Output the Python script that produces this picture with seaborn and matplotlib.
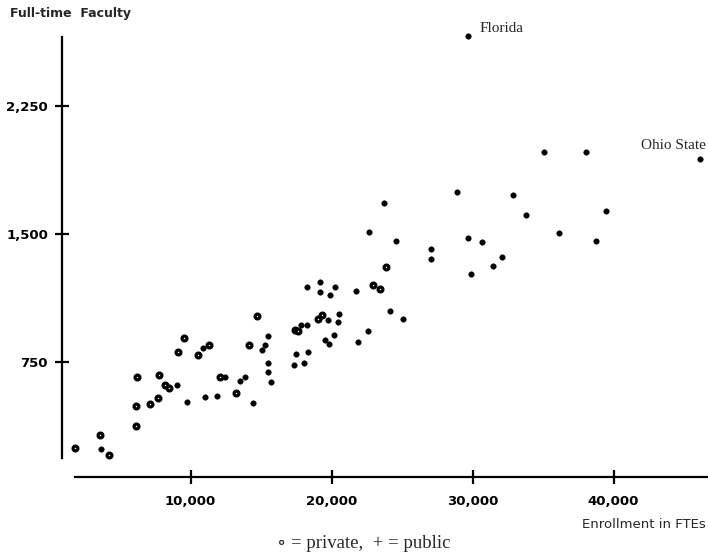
import matplotlib
matplotlib.use("Agg")
import matplotlib.pyplot as plt
import seaborn as sns
import pandas as pd

# Private universities (enrollment in FTEs, full-time faculty)
private_x = [1806, 3576, 4214, 6126, 6126, 6197, 7118, 7684, 7755, 8200, 8450,
             9101, 9526, 10517, 11296, 12075, 13208, 14129, 14695, 17400, 17600,
             19016, 19299, 22911, 23407, 23832]
private_y = [246, 322, 205, 375, 492, 662, 504, 539, 674, 615, 600,
             809, 891, 791, 850, 662, 568, 850, 1020, 940, 930,
             1002, 1025, 1201, 1178, 1307]

# Public universities
public_x = [3647, 9030, 9738, 10871, 11013, 11862, 12429, 13491, 13845, 14412,
            15050, 15262, 15475, 15475, 15475, 15687, 17316, 17458, 17812, 18237,
            18024, 18307, 18237, 19157, 19157, 20219, 19865, 19723, 20502, 20432,
            20149, 19511, 19794, 21707, 21848, 22556, 22628, 23690, 24540, 24115,
            25035, 27089, 27089, 28930, 29709, 30701, 29922, 31480, 32118, 32897,
            33817, 35092, 38067, 36154, 38775, 39483, 29709, 46140]
public_y = [240, 615, 516, 832, 545, 551, 662, 639, 662, 510,
            820, 850, 902, 744, 691, 633, 732, 797, 967, 967,
            744, 809, 1189, 1219, 1160, 1189, 1143, 996, 1031, 984,
            908, 879, 855, 1166, 867, 932, 1512, 1682, 1459, 1049,
            1002, 1412, 1353, 1746, 1477, 1453, 1266, 1312, 1365, 1728,
            1611, 1980, 1980, 1506, 1459, 1635, 2660, 1939]

labels = {"Florida": (29709, 2660), "Ohio State": (46140, 1939)}

x_ticks = [10000, 20000, 30000, 40000]
y_ticks = [750, 1500, 2250]

df = pd.concat([
    pd.DataFrame({"Enrollment": private_x, "Faculty": private_y, "type": "private"}),
    pd.DataFrame({"Enrollment": public_x, "Faculty": public_y, "type": "public"}),
], ignore_index=True)

sns.set_style("white")
plt.rcParams["font.family"] = ["DejaVu Sans"]

fig = plt.figure(figsize=(7.08, 5.54), dpi=100)
ax = fig.add_axes([62 / 708, 1 - 477 / 554, 1 - 62 / 708, (477 - 37) / 554])

sns.scatterplot(data=df[df["type"] == "private"], x="Enrollment", y="Faculty",
                ax=ax, marker="o", s=12, facecolor="white", edgecolor="black",
                linewidth=2.3, legend=False, zorder=3, clip_on=False)
sns.scatterplot(data=df[df["type"] == "public"], x="Enrollment", y="Faculty",
                ax=ax, marker="o", s=16, color="black", edgecolor="black",
                linewidth=0.3, legend=False, zorder=3, clip_on=False)

ax.set_xlim(885, 46700)
ax.set_ylim(76, 2654)

for s in ["top", "right"]:
    ax.spines[s].set_visible(False)
for s in ["left", "bottom"]:
    ax.spines[s].set_linewidth(1.6)
    ax.spines[s].set_color("black")
ax.spines["left"].set_bounds(187, 2654)
ax.spines["bottom"].set_bounds(1806, 46700)

ax.set_xticks(x_ticks)
ax.set_xticklabels([f"{v:,}" for v in x_ticks])
ax.set_yticks(y_ticks)
ax.set_yticklabels([f"{v:,}" for v in y_ticks])
ax.tick_params(axis="both", direction="inout", length=10, width=1.6,
               color="black", labelsize=9.5, labelcolor="black",
               bottom=True, left=True)
ax.tick_params(axis="x", pad=8)
ax.tick_params(axis="y", pad=5)
for t in ax.get_xticklabels() + ax.get_yticklabels():
    t.set_fontweight("bold")

ax.set_xlabel("")
ax.set_ylabel("")

for name, (lx, ly) in labels.items():
    if name == "Florida":
        ax.annotate(name, (lx, ly), xytext=(8, 1), textcoords="offset points",
                    family="Liberation Serif", fontsize=11, ha="left", va="bottom",
                    annotation_clip=False)
    else:
        ax.annotate(name, (lx, ly), xytext=(4, 5), textcoords="offset points",
                    family="Liberation Serif", fontsize=11, ha="right", va="bottom",
                    annotation_clip=False)

fig.text(10 / 708, 1 - 13 / 554, "Full-time  Faculty", fontsize=9, fontweight="bold",
         ha="left", va="center")
fig.text(706 / 708, 1 - 524 / 554, "Enrollment in FTEs", fontsize=9.5,
         ha="right", va="center")
fig.text(364 / 708, 1 - 543 / 554, "\u2218 = private,  + = public",
         family=["Liberation Serif", "DejaVu Serif"], fontsize=13.5, ha="center", va="center")

fig.savefig("out.png", dpi=100)
